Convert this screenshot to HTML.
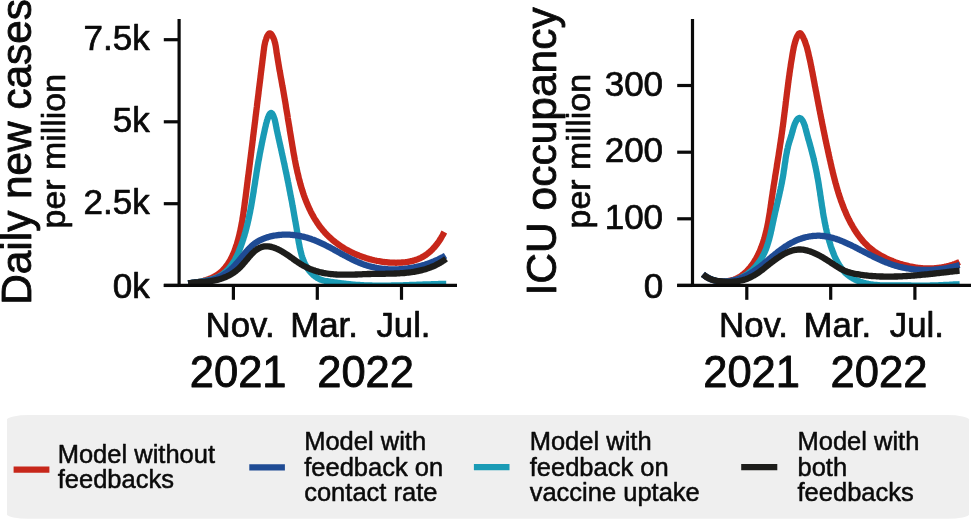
<!DOCTYPE html>
<html lang="en">
<head>
<meta charset="utf-8">
<title>Model feedback scenarios</title>
<style>
html,body{margin:0;padding:0;background:#fff;}
body{width:971px;height:519px;overflow:hidden;}
svg{display:block;font-family:"Liberation Sans",sans-serif;}
text{fill:#0a0a0a;stroke:#0a0a0a;stroke-width:0.02em;stroke-linejoin:round;}
</style>
</head>
<body>
<svg width="971" height="519" viewBox="0 0 971 519">
<rect width="971" height="519" fill="#ffffff"/>
<rect x="7" y="415.1" width="962" height="103.7" rx="22" ry="4.5" fill="#efefef"/>
<clipPath id="plotclip"><rect x="0" y="0" width="971" height="286.9"/></clipPath>
<g fill="none" stroke-width="6.3" stroke-linejoin="round" clip-path="url(#plotclip)">
<path d="M188.2,283.4 L189.4,283.3 L190.5,283.1 L191.7,283.0 L192.9,282.8 L194.1,282.6 L195.3,282.5 L196.5,282.3 L197.7,282.0 L198.9,281.8 L200.1,281.5 L201.3,281.3 L202.5,281.0 L203.7,280.7 L204.9,280.3 L206.1,280.0 L207.2,279.6 L208.4,279.2 L209.5,278.8 L210.6,278.3 L211.8,277.8 L212.8,277.3 L213.9,276.8 L214.9,276.2 L216.0,275.6 L217.0,275.0 L217.9,274.4 L218.9,273.7 L219.8,273.0 L220.7,272.2 L221.6,271.5 L222.4,270.7 L223.2,269.8 L224.0,269.0 L224.8,268.1 L225.5,267.2 L226.2,266.3 L226.9,265.3 L227.6,264.4 L228.3,263.4 L228.9,262.4 L229.5,261.3 L230.1,260.3 L230.7,259.2 L231.3,258.2 L231.8,257.1 L232.3,256.0 L232.8,254.9 L233.3,253.7 L233.8,252.6 L234.3,251.5 L234.7,250.3 L235.1,249.2 L235.5,248.0 L235.9,246.8 L236.3,245.6 L236.7,244.5 L237.1,243.3 L237.4,242.1 L237.7,240.9 L238.1,239.7 L238.4,238.5 L238.7,237.4 L239.0,236.2 L239.3,235.0 L239.6,233.8 L239.8,232.6 L240.1,231.5 L240.4,230.3 L240.6,229.1 L240.8,228.0 L241.1,226.8 L241.3,225.6 L241.5,224.4 L241.7,223.3 L242.0,222.1 L242.2,220.9 L242.4,219.8 L242.5,218.6 L242.7,217.4 L242.9,216.2 L243.1,215.1 L243.3,213.9 L243.4,212.7 L243.6,211.5 L243.8,210.4 L243.9,209.2 L244.1,208.0 L244.3,206.9 L244.4,205.7 L244.6,204.5 L244.7,203.3 L244.9,202.1 L245.0,201.0 L245.2,199.8 L245.4,198.6 L245.5,197.4 L245.7,196.2 L245.8,195.0 L246.0,193.9 L246.1,192.7 L246.3,191.5 L246.4,190.3 L246.6,189.1 L246.7,187.9 L246.9,186.7 L247.0,185.5 L247.2,184.3 L247.3,183.1 L247.5,181.9 L247.6,180.7 L247.8,179.5 L247.9,178.3 L248.1,177.1 L248.2,175.9 L248.4,174.7 L248.6,173.5 L248.7,172.3 L248.9,171.1 L249.0,169.9 L249.2,168.7 L249.3,167.5 L249.5,166.3 L249.6,165.1 L249.8,163.9 L249.9,162.7 L250.1,161.5 L250.2,160.3 L250.4,159.1 L250.5,157.9 L250.7,156.7 L250.8,155.5 L251.0,154.3 L251.1,153.1 L251.3,151.9 L251.4,150.7 L251.6,149.5 L251.7,148.3 L251.9,147.1 L252.0,145.9 L252.2,144.7 L252.3,143.5 L252.5,142.3 L252.6,141.1 L252.8,139.9 L252.9,138.7 L253.0,137.5 L253.2,136.3 L253.3,135.1 L253.5,133.9 L253.6,132.7 L253.8,131.5 L253.9,130.3 L254.1,129.1 L254.2,127.9 L254.4,126.7 L254.5,125.5 L254.7,124.3 L254.8,123.1 L255.0,122.0 L255.1,120.8 L255.3,119.6 L255.4,118.4 L255.5,117.2 L255.7,116.0 L255.8,114.8 L256.0,113.7 L256.1,112.5 L256.3,111.3 L256.4,110.1 L256.6,108.9 L256.7,107.7 L256.9,106.6 L257.0,105.4 L257.1,104.2 L257.3,103.0 L257.4,101.8 L257.6,100.6 L257.7,99.5 L257.9,98.3 L258.0,97.1 L258.2,95.9 L258.3,94.7 L258.5,93.5 L258.6,92.3 L258.7,91.2 L258.9,90.0 L259.0,88.8 L259.2,87.6 L259.3,86.4 L259.5,85.2 L259.6,84.0 L259.8,82.8 L259.9,81.7 L260.1,80.5 L260.2,79.3 L260.4,78.1 L260.5,76.9 L260.6,75.7 L260.8,74.5 L260.9,73.3 L261.1,72.1 L261.2,70.9 L261.4,69.7 L261.5,68.5 L261.7,67.3 L261.8,66.1 L262.0,64.9 L262.1,63.7 L262.3,62.5 L262.4,61.2 L262.6,60.0 L262.7,58.8 L262.9,57.6 L263.0,56.4 L263.2,55.2 L263.3,53.9 L263.5,52.7 L263.6,51.5 L263.8,50.3 L264.0,49.0 L264.1,47.8 L264.3,46.6 L264.5,45.3 L264.8,44.1 L265.0,42.9 L265.3,41.6 L265.7,40.4 L266.1,39.2 L266.5,37.9 L267.0,36.7 L267.6,35.5 L268.2,34.5 L268.9,33.7 L269.6,33.3 L270.3,33.3 L271.0,33.9 L271.7,34.7 L272.3,35.8 L272.9,37.0 L273.5,38.2 L274.0,39.4 L274.4,40.6 L274.7,41.9 L275.1,43.1 L275.3,44.3 L275.6,45.5 L275.8,46.8 L276.0,48.0 L276.2,49.2 L276.4,50.4 L276.5,51.7 L276.7,52.9 L276.9,54.1 L277.1,55.3 L277.3,56.6 L277.5,57.8 L277.7,59.0 L277.9,60.2 L278.1,61.4 L278.3,62.6 L278.5,63.9 L278.7,65.1 L278.9,66.3 L279.1,67.5 L279.3,68.7 L279.5,69.9 L279.7,71.1 L280.0,72.3 L280.2,73.5 L280.4,74.7 L280.6,75.9 L280.8,77.1 L281.0,78.3 L281.3,79.5 L281.5,80.7 L281.7,81.9 L281.9,83.1 L282.1,84.3 L282.3,85.5 L282.5,86.6 L282.8,87.8 L283.0,89.0 L283.2,90.2 L283.4,91.3 L283.6,92.5 L283.8,93.7 L284.0,94.8 L284.2,96.0 L284.4,97.2 L284.6,98.3 L284.8,99.5 L285.0,100.7 L285.2,101.8 L285.4,103.0 L285.6,104.2 L285.8,105.3 L285.9,106.5 L286.1,107.6 L286.3,108.8 L286.5,110.0 L286.7,111.1 L286.9,112.3 L287.1,113.4 L287.3,114.6 L287.5,115.7 L287.7,116.9 L287.8,118.1 L288.0,119.2 L288.2,120.4 L288.4,121.6 L288.6,122.7 L288.8,123.9 L289.0,125.1 L289.2,126.2 L289.4,127.4 L289.6,128.6 L289.7,129.7 L289.9,130.9 L290.1,132.1 L290.3,133.3 L290.5,134.4 L290.7,135.6 L290.9,136.8 L291.1,138.0 L291.3,139.2 L291.5,140.4 L291.7,141.6 L291.9,142.8 L292.1,144.0 L292.3,145.2 L292.5,146.4 L292.7,147.6 L292.9,148.8 L293.1,150.0 L293.3,151.2 L293.5,152.4 L293.7,153.6 L293.9,154.8 L294.2,156.0 L294.4,157.2 L294.6,158.4 L294.8,159.6 L295.1,160.9 L295.3,162.1 L295.5,163.3 L295.8,164.5 L296.0,165.7 L296.3,166.9 L296.5,168.1 L296.8,169.3 L297.1,170.5 L297.3,171.7 L297.6,172.9 L297.9,174.1 L298.2,175.3 L298.5,176.5 L298.7,177.7 L299.0,178.9 L299.4,180.1 L299.7,181.3 L300.0,182.5 L300.3,183.7 L300.6,184.8 L301.0,186.0 L301.3,187.2 L301.7,188.4 L302.0,189.5 L302.4,190.7 L302.8,191.8 L303.1,193.0 L303.5,194.1 L303.9,195.3 L304.3,196.4 L304.7,197.5 L305.1,198.7 L305.6,199.8 L306.0,200.9 L306.4,202.0 L306.9,203.1 L307.4,204.2 L307.8,205.3 L308.3,206.4 L308.8,207.5 L309.3,208.6 L309.8,209.7 L310.3,210.7 L310.8,211.8 L311.4,212.8 L311.9,213.9 L312.5,214.9 L313.0,215.9 L313.6,216.9 L314.2,218.0 L314.8,219.0 L315.4,220.0 L316.1,220.9 L316.7,221.9 L317.3,222.9 L318.0,223.9 L318.7,224.8 L319.3,225.8 L320.0,226.7 L320.7,227.6 L321.5,228.5 L322.2,229.4 L322.9,230.3 L323.7,231.2 L324.5,232.1 L325.2,233.0 L326.0,233.8 L326.9,234.7 L327.7,235.5 L328.5,236.3 L329.4,237.1 L330.2,237.9 L331.1,238.7 L332.0,239.5 L332.9,240.3 L333.8,241.0 L334.8,241.8 L335.7,242.5 L336.7,243.2 L337.6,243.9 L338.6,244.6 L339.6,245.3 L340.6,246.0 L341.6,246.7 L342.6,247.3 L343.6,247.9 L344.7,248.6 L345.7,249.2 L346.8,249.8 L347.9,250.4 L348.9,250.9 L350.0,251.5 L351.1,252.1 L352.2,252.6 L353.3,253.1 L354.4,253.6 L355.6,254.1 L356.7,254.6 L357.8,255.1 L359.0,255.5 L360.1,256.0 L361.3,256.4 L362.4,256.8 L363.6,257.2 L364.8,257.6 L365.9,258.0 L367.1,258.4 L368.3,258.7 L369.5,259.1 L370.7,259.4 L371.9,259.7 L373.1,260.0 L374.3,260.3 L375.5,260.5 L376.7,260.8 L377.9,261.0 L379.1,261.2 L380.3,261.4 L381.5,261.6 L382.7,261.8 L383.9,262.0 L385.2,262.1 L386.4,262.2 L387.6,262.4 L388.8,262.5 L390.0,262.6 L391.2,262.6 L392.4,262.7 L393.6,262.7 L394.8,262.7 L396.0,262.8 L397.2,262.7 L398.4,262.7 L399.6,262.7 L400.8,262.6 L402.0,262.5 L403.2,262.4 L404.4,262.3 L405.5,262.2 L406.7,262.0 L407.9,261.8 L409.0,261.6 L410.2,261.4 L411.3,261.1 L412.4,260.9 L413.6,260.6 L414.7,260.2 L415.8,259.9 L416.9,259.5 L417.9,259.1 L419.0,258.6 L420.1,258.2 L421.1,257.7 L422.2,257.1 L423.2,256.6 L424.2,256.0 L425.2,255.3 L426.2,254.7 L427.2,254.0 L428.1,253.2 L429.1,252.5 L430.0,251.7 L430.9,250.8 L431.8,250.0 L432.7,249.1 L433.5,248.1 L434.4,247.2 L435.2,246.2 L436.0,245.2 L436.8,244.2 L437.6,243.2 L438.3,242.2 L439.0,241.2 L439.7,240.1 L440.4,239.1 L441.0,238.1 L441.6,237.0 L442.2,236.0 L442.8,235.0 L443.3,234.0 L443.8,233.0 L444.3,232.0" stroke="#c7271a"/>
<path d="M188.2,283.4 L189.3,283.2 L190.5,283.1 L191.7,282.9 L192.9,282.7 L194.1,282.6 L195.3,282.4 L196.5,282.3 L197.7,282.1 L199.0,281.9 L200.2,281.7 L201.4,281.5 L202.7,281.3 L203.9,281.1 L205.2,280.9 L206.4,280.6 L207.6,280.4 L208.9,280.1 L210.1,279.8 L211.3,279.5 L212.4,279.1 L213.6,278.7 L214.7,278.3 L215.9,277.9 L217.0,277.5 L218.0,277.0 L219.1,276.4 L220.1,275.9 L221.1,275.3 L222.1,274.7 L223.0,274.0 L223.9,273.3 L224.8,272.6 L225.7,271.8 L226.5,271.0 L227.3,270.2 L228.1,269.4 L228.9,268.5 L229.6,267.6 L230.4,266.7 L231.1,265.8 L231.7,264.8 L232.4,263.9 L233.0,262.9 L233.7,261.9 L234.3,260.8 L234.9,259.8 L235.4,258.7 L236.0,257.7 L236.5,256.6 L237.1,255.5 L237.6,254.4 L238.1,253.2 L238.6,252.1 L239.0,251.0 L239.5,249.8 L239.9,248.7 L240.4,247.5 L240.8,246.4 L241.2,245.2 L241.6,244.1 L242.0,242.9 L242.4,241.8 L242.8,240.6 L243.2,239.4 L243.5,238.3 L243.9,237.1 L244.3,235.9 L244.6,234.8 L244.9,233.6 L245.3,232.4 L245.6,231.3 L245.9,230.1 L246.2,228.9 L246.5,227.8 L246.8,226.6 L247.1,225.4 L247.4,224.3 L247.7,223.1 L247.9,221.9 L248.2,220.7 L248.5,219.6 L248.7,218.4 L249.0,217.2 L249.2,216.0 L249.5,214.8 L249.7,213.7 L250.0,212.5 L250.2,211.3 L250.4,210.1 L250.6,208.9 L250.9,207.8 L251.1,206.6 L251.3,205.4 L251.5,204.2 L251.7,203.0 L251.9,201.9 L252.1,200.7 L252.3,199.5 L252.5,198.3 L252.7,197.1 L252.9,195.9 L253.1,194.8 L253.3,193.6 L253.5,192.4 L253.7,191.2 L253.8,190.0 L254.0,188.8 L254.2,187.6 L254.4,186.5 L254.6,185.3 L254.8,184.1 L255.0,182.9 L255.1,181.7 L255.3,180.5 L255.5,179.3 L255.7,178.2 L255.9,177.0 L256.1,175.8 L256.3,174.6 L256.4,173.4 L256.6,172.2 L256.8,171.1 L257.0,169.9 L257.2,168.7 L257.4,167.5 L257.6,166.3 L257.8,165.1 L258.0,164.0 L258.2,162.8 L258.4,161.6 L258.6,160.4 L258.9,159.2 L259.1,158.0 L259.3,156.9 L259.5,155.7 L259.7,154.5 L259.9,153.3 L260.2,152.1 L260.4,150.9 L260.6,149.8 L260.9,148.6 L261.1,147.4 L261.3,146.2 L261.6,145.0 L261.8,143.8 L262.0,142.6 L262.3,141.5 L262.5,140.3 L262.8,139.1 L263.0,137.9 L263.3,136.7 L263.5,135.5 L263.8,134.3 L264.1,133.1 L264.3,131.9 L264.6,130.7 L264.8,129.5 L265.1,128.3 L265.4,127.1 L265.7,125.9 L265.9,124.7 L266.2,123.5 L266.6,122.3 L266.9,121.0 L267.3,119.8 L267.7,118.5 L268.2,117.3 L268.7,116.0 L269.2,114.8 L269.8,113.8 L270.5,113.2 L271.1,112.9 L271.7,113.2 L272.3,113.8 L272.9,114.8 L273.4,116.0 L273.9,117.3 L274.4,118.6 L274.8,119.9 L275.1,121.3 L275.4,122.6 L275.7,124.0 L275.9,125.3 L276.2,126.6 L276.4,127.9 L276.7,129.2 L276.9,130.4 L277.2,131.6 L277.4,132.7 L277.7,133.9 L277.9,135.0 L278.2,136.2 L278.4,137.3 L278.7,138.4 L278.9,139.6 L279.2,140.7 L279.4,141.8 L279.7,142.9 L279.9,144.1 L280.2,145.2 L280.4,146.4 L280.7,147.5 L281.0,148.7 L281.2,149.9 L281.5,151.0 L281.7,152.2 L282.0,153.4 L282.2,154.6 L282.5,155.8 L282.8,157.0 L283.0,158.1 L283.3,159.3 L283.5,160.5 L283.8,161.7 L284.1,162.9 L284.3,164.1 L284.6,165.3 L284.8,166.5 L285.1,167.7 L285.3,168.9 L285.6,170.1 L285.8,171.3 L286.1,172.5 L286.3,173.6 L286.6,174.8 L286.8,176.0 L287.1,177.2 L287.3,178.4 L287.5,179.6 L287.8,180.8 L288.0,181.9 L288.3,183.1 L288.5,184.3 L288.7,185.5 L289.0,186.7 L289.2,187.8 L289.4,189.0 L289.6,190.2 L289.9,191.4 L290.1,192.5 L290.3,193.7 L290.5,194.9 L290.8,196.1 L291.0,197.2 L291.2,198.4 L291.4,199.6 L291.7,200.8 L291.9,201.9 L292.1,203.1 L292.3,204.3 L292.5,205.5 L292.7,206.6 L293.0,207.8 L293.2,209.0 L293.4,210.2 L293.6,211.4 L293.8,212.5 L294.0,213.7 L294.2,214.9 L294.4,216.1 L294.6,217.3 L294.8,218.4 L295.0,219.6 L295.2,220.8 L295.5,222.0 L295.7,223.2 L295.9,224.4 L296.1,225.6 L296.3,226.8 L296.5,227.9 L296.7,229.1 L296.9,230.3 L297.1,231.5 L297.3,232.7 L297.5,233.9 L297.6,235.1 L297.8,236.3 L298.0,237.5 L298.2,238.7 L298.4,240.0 L298.6,241.2 L298.8,242.4 L299.0,243.6 L299.3,244.8 L299.5,246.0 L299.7,247.2 L300.0,248.4 L300.2,249.6 L300.5,250.8 L300.8,251.9 L301.1,253.1 L301.4,254.3 L301.7,255.4 L302.1,256.6 L302.4,257.7 L302.8,258.8 L303.3,260.0 L303.7,261.1 L304.2,262.2 L304.7,263.3 L305.2,264.3 L305.8,265.4 L306.4,266.4 L307.0,267.4 L307.6,268.5 L308.3,269.4 L309.0,270.4 L309.8,271.3 L310.6,272.3 L311.4,273.1 L312.2,274.0 L313.1,274.8 L314.0,275.6 L314.9,276.3 L315.9,277.0 L316.9,277.7 L317.9,278.3 L318.9,278.8 L320.0,279.3 L321.1,279.8 L322.3,280.1 L323.4,280.5 L324.6,280.8 L325.8,281.0 L327.1,281.2 L328.3,281.4 L329.5,281.6 L330.7,281.8 L332.0,282.0 L333.2,282.1 L334.4,282.3 L335.6,282.5 L336.8,282.6 L338.0,282.8 L339.2,283.0 L340.4,283.1 L341.6,283.3 L342.8,283.4 L344.0,283.6 L345.2,283.7 L346.4,283.8 L347.6,284.0 L348.8,284.1 L349.9,284.2 L351.1,284.3 L352.3,284.5 L353.5,284.6 L354.7,284.7 L355.9,284.8 L357.1,284.8 L358.3,284.9 L359.5,285.0 L360.7,285.1 L361.9,285.2 L363.1,285.2 L364.3,285.3 L365.5,285.3 L366.7,285.4 L367.9,285.4 L369.1,285.5 L370.3,285.5 L371.5,285.5 L372.7,285.6 L373.9,285.6 L375.1,285.6 L376.3,285.6 L377.5,285.6 L378.7,285.6 L379.9,285.7 L381.1,285.7 L382.3,285.7 L383.5,285.7 L384.7,285.6 L385.9,285.6 L387.1,285.6 L388.3,285.6 L389.5,285.6 L390.7,285.6 L391.9,285.5 L393.2,285.5 L394.4,285.5 L395.6,285.5 L396.8,285.4 L398.0,285.4 L399.2,285.4 L400.4,285.3 L401.6,285.3 L402.8,285.3 L404.0,285.2 L405.2,285.2 L406.5,285.1 L407.7,285.1 L408.9,285.1 L410.1,285.0 L411.3,285.0 L412.5,284.9 L413.7,284.9 L414.9,284.8 L416.1,284.8 L417.3,284.7 L418.5,284.7 L419.7,284.6 L421.0,284.6 L422.2,284.6 L423.4,284.5 L424.6,284.5 L425.8,284.4 L427.0,284.4 L428.2,284.3 L429.4,284.3 L430.6,284.3 L431.8,284.2 L433.0,284.2 L434.2,284.1 L435.4,284.1 L436.6,284.1 L437.8,284.1 L439.0,284.0 L440.2,284.0 L441.4,284.0 L442.6,284.0 L443.8,283.9 L445.0,283.9 L446.2,283.9" stroke="#1a9bb5"/>
<path d="M188.2,283.4 L189.4,283.2 L190.6,283.1 L191.8,282.9 L193.0,282.8 L194.2,282.7 L195.4,282.5 L196.6,282.4 L197.9,282.3 L199.1,282.2 L200.3,282.0 L201.5,281.9 L202.7,281.7 L203.9,281.5 L205.1,281.3 L206.3,281.1 L207.5,280.9 L208.7,280.6 L209.8,280.3 L211.0,280.0 L212.1,279.7 L213.3,279.4 L214.4,279.0 L215.5,278.6 L216.6,278.2 L217.6,277.7 L218.7,277.2 L219.8,276.7 L220.8,276.2 L221.8,275.7 L222.8,275.1 L223.8,274.5 L224.8,273.9 L225.8,273.2 L226.8,272.6 L227.7,271.9 L228.6,271.2 L229.6,270.4 L230.5,269.7 L231.3,268.9 L232.2,268.1 L233.1,267.3 L233.9,266.4 L234.7,265.5 L235.5,264.6 L236.3,263.7 L237.1,262.8 L237.9,261.9 L238.7,260.9 L239.5,260.0 L240.3,259.0 L241.0,258.0 L241.8,257.1 L242.6,256.1 L243.4,255.2 L244.1,254.2 L244.9,253.2 L245.7,252.3 L246.5,251.4 L247.3,250.5 L248.1,249.6 L249.0,248.7 L249.8,247.8 L250.7,247.0 L251.5,246.1 L252.4,245.3 L253.4,244.6 L254.3,243.8 L255.2,243.1 L256.2,242.5 L257.2,241.8 L258.2,241.2 L259.3,240.6 L260.3,240.1 L261.4,239.6 L262.5,239.1 L263.6,238.6 L264.7,238.2 L265.9,237.8 L267.0,237.4 L268.2,237.1 L269.3,236.7 L270.5,236.4 L271.7,236.2 L272.8,235.9 L274.0,235.7 L275.2,235.5 L276.4,235.3 L277.6,235.1 L278.8,235.0 L280.0,234.9 L281.2,234.8 L282.4,234.7 L283.6,234.7 L284.8,234.6 L286.0,234.6 L287.3,234.6 L288.5,234.7 L289.7,234.7 L290.9,234.8 L292.1,234.9 L293.3,235.0 L294.5,235.2 L295.7,235.3 L296.9,235.5 L298.2,235.7 L299.4,235.9 L300.5,236.1 L301.7,236.4 L302.9,236.6 L304.1,236.9 L305.3,237.2 L306.5,237.5 L307.6,237.9 L308.8,238.2 L309.9,238.6 L311.1,239.0 L312.2,239.4 L313.4,239.8 L314.5,240.2 L315.6,240.7 L316.7,241.1 L317.8,241.6 L318.9,242.1 L320.0,242.6 L321.1,243.1 L322.2,243.6 L323.3,244.1 L324.4,244.6 L325.5,245.2 L326.5,245.7 L327.6,246.3 L328.7,246.8 L329.7,247.4 L330.8,247.9 L331.8,248.5 L332.9,249.1 L334.0,249.7 L335.0,250.3 L336.1,250.8 L337.1,251.4 L338.2,252.0 L339.2,252.6 L340.3,253.2 L341.3,253.8 L342.4,254.3 L343.4,254.9 L344.5,255.5 L345.5,256.0 L346.6,256.6 L347.7,257.2 L348.7,257.7 L349.8,258.3 L350.8,258.8 L351.9,259.3 L353.0,259.9 L354.1,260.4 L355.1,260.9 L356.2,261.4 L357.3,261.9 L358.4,262.3 L359.5,262.8 L360.6,263.2 L361.7,263.7 L362.8,264.1 L363.9,264.5 L365.1,264.9 L366.2,265.3 L367.3,265.6 L368.5,266.0 L369.6,266.3 L370.8,266.6 L371.9,266.9 L373.1,267.1 L374.3,267.4 L375.4,267.6 L376.6,267.9 L377.8,268.1 L379.0,268.3 L380.2,268.5 L381.4,268.6 L382.6,268.8 L383.8,268.9 L385.0,269.0 L386.2,269.1 L387.4,269.2 L388.6,269.3 L389.8,269.3 L391.0,269.4 L392.2,269.4 L393.5,269.4 L394.7,269.4 L395.9,269.4 L397.1,269.3 L398.3,269.3 L399.6,269.2 L400.8,269.2 L402.0,269.1 L403.2,269.0 L404.4,268.8 L405.6,268.7 L406.9,268.6 L408.1,268.4 L409.3,268.2 L410.5,268.0 L411.7,267.8 L412.9,267.6 L414.1,267.4 L415.3,267.1 L416.5,266.9 L417.7,266.6 L418.9,266.3 L420.0,266.0 L421.2,265.7 L422.4,265.4 L423.6,265.0 L424.7,264.7 L425.9,264.3 L427.0,263.9 L428.2,263.5 L429.3,263.1 L430.4,262.7 L431.6,262.3 L432.7,261.8 L433.8,261.4 L434.9,260.9 L436.0,260.4 L437.1,260.0 L438.2,259.5 L439.2,258.9 L440.3,258.4 L441.4,257.9 L442.4,257.3 L443.5,256.8 L444.5,256.2 L445.5,255.6" stroke="#1f4b94"/>
<path d="M188.2,283.4 L189.4,283.2 L190.6,283.0 L191.8,282.8 L193.0,282.7 L194.2,282.6 L195.4,282.4 L196.6,282.4 L197.8,282.3 L199.0,282.2 L200.2,282.1 L201.5,282.1 L202.7,282.0 L203.9,281.9 L205.1,281.8 L206.3,281.7 L207.5,281.6 L208.7,281.4 L209.9,281.3 L211.1,281.1 L212.3,280.9 L213.5,280.7 L214.7,280.4 L215.8,280.2 L217.0,279.9 L218.2,279.6 L219.3,279.3 L220.4,278.9 L221.6,278.5 L222.7,278.2 L223.8,277.7 L224.9,277.3 L226.0,276.8 L227.1,276.3 L228.1,275.8 L229.2,275.3 L230.3,274.7 L231.3,274.1 L232.3,273.5 L233.3,272.8 L234.3,272.1 L235.3,271.4 L236.2,270.7 L237.2,269.9 L238.1,269.1 L239.0,268.3 L239.9,267.4 L240.8,266.5 L241.7,265.6 L242.5,264.7 L243.3,263.7 L244.2,262.7 L245.0,261.8 L245.8,260.8 L246.6,259.8 L247.5,258.8 L248.3,257.8 L249.1,256.9 L249.9,255.9 L250.8,255.0 L251.6,254.1 L252.5,253.2 L253.4,252.3 L254.3,251.5 L255.2,250.7 L256.2,250.0 L257.1,249.3 L258.1,248.7 L259.1,248.1 L260.1,247.6 L261.2,247.2 L262.2,246.8 L263.3,246.6 L264.4,246.4 L265.5,246.3 L266.6,246.3 L267.8,246.3 L268.9,246.5 L270.1,246.6 L271.2,246.9 L272.4,247.2 L273.5,247.5 L274.7,247.9 L275.8,248.4 L277.0,248.9 L278.1,249.4 L279.3,250.0 L280.4,250.6 L281.5,251.2 L282.6,251.8 L283.7,252.5 L284.7,253.1 L285.8,253.8 L286.8,254.5 L287.9,255.2 L288.9,255.9 L289.9,256.6 L290.9,257.3 L291.9,258.0 L292.9,258.7 L293.8,259.4 L294.8,260.1 L295.8,260.8 L296.8,261.5 L297.8,262.2 L298.8,262.9 L299.8,263.5 L300.8,264.2 L301.9,264.8 L302.9,265.4 L304.0,266.0 L305.0,266.5 L306.1,267.1 L307.2,267.6 L308.3,268.1 L309.4,268.6 L310.6,269.1 L311.7,269.5 L312.8,269.9 L314.0,270.3 L315.1,270.7 L316.3,271.1 L317.5,271.4 L318.6,271.8 L319.8,272.1 L321.0,272.3 L322.1,272.6 L323.3,272.9 L324.5,273.1 L325.7,273.3 L326.9,273.5 L328.0,273.7 L329.2,273.8 L330.4,274.0 L331.6,274.1 L332.8,274.2 L334.0,274.3 L335.2,274.4 L336.3,274.5 L337.5,274.6 L338.7,274.6 L339.9,274.7 L341.1,274.7 L342.3,274.7 L343.5,274.7 L344.7,274.7 L345.9,274.7 L347.1,274.7 L348.3,274.7 L349.5,274.7 L350.7,274.7 L352.0,274.6 L353.2,274.6 L354.4,274.6 L355.6,274.5 L356.8,274.5 L358.0,274.4 L359.2,274.4 L360.4,274.3 L361.7,274.3 L362.9,274.2 L364.1,274.2 L365.3,274.1 L366.5,274.1 L367.8,274.0 L369.0,274.0 L370.2,274.0 L371.4,273.9 L372.6,273.9 L373.9,273.9 L375.1,273.9 L376.3,273.9 L377.6,273.8 L378.8,273.8 L380.0,273.8 L381.2,273.8 L382.5,273.8 L383.7,273.8 L384.9,273.8 L386.1,273.7 L387.4,273.7 L388.6,273.7 L389.8,273.7 L391.0,273.6 L392.2,273.6 L393.5,273.6 L394.7,273.5 L395.9,273.5 L397.1,273.4 L398.3,273.4 L399.5,273.3 L400.7,273.2 L401.9,273.2 L403.1,273.1 L404.3,273.0 L405.5,272.9 L406.7,272.7 L407.9,272.6 L409.1,272.5 L410.3,272.3 L411.5,272.2 L412.7,272.0 L413.9,271.8 L415.0,271.6 L416.2,271.4 L417.4,271.2 L418.5,270.9 L419.7,270.7 L420.8,270.4 L422.0,270.1 L423.1,269.8 L424.3,269.5 L425.4,269.2 L426.6,268.8 L427.7,268.4 L428.8,268.0 L429.9,267.6 L431.0,267.2 L432.1,266.7 L433.2,266.3 L434.3,265.8 L435.4,265.3 L436.5,264.7 L437.6,264.2 L438.7,263.6 L439.7,263.0 L440.8,262.3 L441.9,261.7 L442.9,261.0 L443.9,260.3 L445.0,259.6 L446.0,258.8" stroke="#1d1d1b"/>
<path d="M703.0,274.3 L703.9,275.1 L704.8,275.8 L705.8,276.6 L706.8,277.2 L707.8,277.8 L708.9,278.4 L710.0,278.9 L711.1,279.4 L712.2,279.8 L713.4,280.1 L714.6,280.5 L715.7,280.8 L717.0,281.0 L718.2,281.2 L719.4,281.3 L720.6,281.4 L721.8,281.5 L723.1,281.5 L724.3,281.5 L725.5,281.4 L726.7,281.3 L727.9,281.1 L729.1,280.9 L730.3,280.7 L731.5,280.4 L732.6,280.0 L733.7,279.7 L734.8,279.3 L735.9,278.8 L736.9,278.3 L738.0,277.8 L739.0,277.2 L740.0,276.6 L740.9,276.0 L741.9,275.3 L742.8,274.6 L743.7,273.9 L744.6,273.1 L745.5,272.3 L746.4,271.5 L747.2,270.7 L748.0,269.8 L748.8,268.9 L749.6,268.0 L750.4,267.1 L751.1,266.1 L751.8,265.2 L752.5,264.2 L753.2,263.2 L753.9,262.1 L754.5,261.1 L755.2,260.0 L755.8,259.0 L756.4,257.9 L757.0,256.8 L757.6,255.7 L758.1,254.6 L758.7,253.5 L759.2,252.4 L759.7,251.2 L760.2,250.1 L760.6,249.0 L761.1,247.8 L761.5,246.7 L762.0,245.5 L762.4,244.4 L762.8,243.2 L763.2,242.1 L763.5,240.9 L763.9,239.8 L764.3,238.6 L764.6,237.5 L764.9,236.3 L765.2,235.2 L765.5,234.0 L765.8,232.8 L766.1,231.7 L766.4,230.5 L766.7,229.4 L766.9,228.2 L767.2,227.0 L767.4,225.8 L767.6,224.7 L767.9,223.5 L768.1,222.3 L768.3,221.2 L768.5,220.0 L768.7,218.8 L768.9,217.6 L769.1,216.4 L769.3,215.3 L769.5,214.1 L769.7,212.9 L769.9,211.7 L770.0,210.5 L770.2,209.4 L770.4,208.2 L770.6,207.0 L770.7,205.8 L770.9,204.6 L771.1,203.4 L771.2,202.2 L771.4,201.0 L771.6,199.9 L771.7,198.7 L771.9,197.5 L772.1,196.3 L772.3,195.1 L772.5,193.9 L772.6,192.7 L772.8,191.5 L773.0,190.3 L773.2,189.2 L773.4,188.0 L773.5,186.8 L773.7,185.6 L773.9,184.4 L774.1,183.2 L774.3,182.0 L774.5,180.8 L774.7,179.6 L774.9,178.4 L775.0,177.2 L775.2,176.0 L775.4,174.9 L775.6,173.7 L775.8,172.5 L776.0,171.3 L776.2,170.1 L776.4,168.9 L776.6,167.7 L776.8,166.5 L776.9,165.3 L777.1,164.1 L777.3,162.9 L777.5,161.7 L777.7,160.5 L777.9,159.3 L778.1,158.1 L778.3,156.9 L778.5,155.8 L778.7,154.6 L778.8,153.4 L779.0,152.2 L779.2,151.0 L779.4,149.8 L779.6,148.6 L779.8,147.4 L779.9,146.2 L780.1,145.0 L780.3,143.8 L780.5,142.6 L780.7,141.4 L780.8,140.2 L781.0,139.0 L781.2,137.9 L781.4,136.7 L781.5,135.5 L781.7,134.3 L781.9,133.1 L782.0,131.9 L782.2,130.7 L782.4,129.5 L782.5,128.3 L782.7,127.1 L782.9,125.9 L783.0,124.7 L783.2,123.6 L783.3,122.4 L783.5,121.2 L783.6,120.0 L783.8,118.8 L783.9,117.6 L784.1,116.4 L784.2,115.2 L784.4,114.0 L784.5,112.8 L784.7,111.7 L784.8,110.5 L785.0,109.3 L785.1,108.1 L785.3,106.9 L785.4,105.7 L785.6,104.5 L785.7,103.3 L785.8,102.1 L786.0,100.9 L786.1,99.8 L786.3,98.6 L786.4,97.4 L786.6,96.2 L786.7,95.0 L786.9,93.8 L787.0,92.6 L787.2,91.4 L787.3,90.2 L787.5,89.0 L787.6,87.9 L787.8,86.7 L787.9,85.5 L788.1,84.3 L788.2,83.1 L788.4,81.9 L788.5,80.7 L788.7,79.5 L788.9,78.3 L789.0,77.1 L789.2,75.9 L789.4,74.7 L789.5,73.5 L789.7,72.3 L789.9,71.1 L790.0,69.9 L790.2,68.7 L790.4,67.6 L790.6,66.4 L790.7,65.2 L790.9,64.0 L791.1,62.8 L791.3,61.6 L791.5,60.4 L791.7,59.2 L791.9,58.0 L792.1,56.8 L792.3,55.6 L792.5,54.3 L792.7,53.1 L792.9,51.9 L793.1,50.7 L793.4,49.5 L793.6,48.3 L793.8,47.1 L794.1,45.9 L794.4,44.7 L794.7,43.5 L795.1,42.2 L795.4,41.0 L795.9,39.7 L796.3,38.5 L796.8,37.2 L797.4,36.0 L798.0,34.9 L798.6,34.0 L799.3,33.4 L799.9,33.2 L800.6,33.5 L801.3,34.2 L802.0,35.2 L802.6,36.3 L803.2,37.5 L803.8,38.8 L804.4,40.0 L804.8,41.2 L805.3,42.5 L805.7,43.7 L806.1,44.9 L806.5,46.1 L806.9,47.3 L807.2,48.5 L807.5,49.7 L807.8,50.9 L808.1,52.1 L808.4,53.3 L808.6,54.5 L808.9,55.7 L809.2,56.9 L809.4,58.1 L809.7,59.3 L810.0,60.4 L810.2,61.6 L810.5,62.8 L810.7,64.0 L811.0,65.2 L811.2,66.4 L811.4,67.5 L811.7,68.7 L811.9,69.9 L812.1,71.1 L812.4,72.3 L812.6,73.4 L812.8,74.6 L813.0,75.8 L813.3,77.0 L813.5,78.1 L813.7,79.3 L813.9,80.5 L814.2,81.7 L814.4,82.9 L814.6,84.0 L814.8,85.2 L815.0,86.4 L815.3,87.6 L815.5,88.7 L815.7,89.9 L815.9,91.1 L816.2,92.3 L816.4,93.4 L816.6,94.6 L816.8,95.8 L817.1,97.0 L817.3,98.2 L817.5,99.3 L817.7,100.5 L818.0,101.7 L818.2,102.9 L818.4,104.0 L818.6,105.2 L818.9,106.4 L819.1,107.6 L819.3,108.8 L819.5,109.9 L819.8,111.1 L820.0,112.3 L820.2,113.5 L820.5,114.6 L820.7,115.8 L820.9,117.0 L821.2,118.2 L821.4,119.4 L821.6,120.5 L821.9,121.7 L822.1,122.9 L822.3,124.1 L822.6,125.2 L822.8,126.4 L823.1,127.6 L823.3,128.8 L823.5,130.0 L823.8,131.1 L824.0,132.3 L824.3,133.5 L824.5,134.7 L824.8,135.9 L825.0,137.0 L825.2,138.2 L825.5,139.4 L825.7,140.6 L826.0,141.7 L826.2,142.9 L826.5,144.1 L826.7,145.3 L827.0,146.5 L827.2,147.6 L827.5,148.8 L827.8,150.0 L828.0,151.2 L828.3,152.4 L828.5,153.5 L828.8,154.7 L829.0,155.9 L829.3,157.1 L829.6,158.3 L829.8,159.4 L830.1,160.6 L830.4,161.8 L830.6,163.0 L830.9,164.1 L831.2,165.3 L831.4,166.5 L831.7,167.7 L832.0,168.9 L832.3,170.0 L832.6,171.2 L832.8,172.4 L833.1,173.6 L833.4,174.7 L833.7,175.9 L834.0,177.1 L834.3,178.3 L834.6,179.4 L834.9,180.6 L835.2,181.8 L835.5,182.9 L835.9,184.1 L836.2,185.3 L836.5,186.4 L836.8,187.6 L837.2,188.7 L837.5,189.9 L837.9,191.1 L838.2,192.2 L838.6,193.4 L838.9,194.5 L839.3,195.7 L839.7,196.8 L840.1,197.9 L840.5,199.1 L840.8,200.2 L841.2,201.3 L841.7,202.5 L842.1,203.6 L842.5,204.7 L842.9,205.8 L843.4,207.0 L843.8,208.1 L844.2,209.2 L844.7,210.3 L845.2,211.4 L845.7,212.5 L846.1,213.6 L846.6,214.7 L847.1,215.8 L847.6,216.9 L848.2,218.0 L848.7,219.1 L849.2,220.1 L849.8,221.2 L850.3,222.3 L850.9,223.3 L851.5,224.4 L852.1,225.4 L852.7,226.5 L853.3,227.5 L853.9,228.6 L854.5,229.6 L855.2,230.6 L855.8,231.6 L856.5,232.6 L857.2,233.6 L857.9,234.6 L858.6,235.6 L859.3,236.5 L860.0,237.5 L860.7,238.4 L861.5,239.3 L862.3,240.3 L863.0,241.2 L863.8,242.0 L864.6,242.9 L865.5,243.8 L866.3,244.6 L867.2,245.5 L868.0,246.3 L868.9,247.1 L869.8,247.9 L870.7,248.7 L871.7,249.4 L872.6,250.1 L873.6,250.9 L874.5,251.6 L875.5,252.3 L876.5,252.9 L877.5,253.6 L878.6,254.2 L879.6,254.8 L880.7,255.5 L881.7,256.0 L882.8,256.6 L883.9,257.2 L885.0,257.7 L886.1,258.3 L887.2,258.8 L888.3,259.3 L889.4,259.8 L890.5,260.3 L891.7,260.7 L892.8,261.2 L893.9,261.6 L895.1,262.1 L896.2,262.5 L897.4,262.9 L898.5,263.3 L899.7,263.7 L900.9,264.0 L902.0,264.4 L903.2,264.7 L904.3,265.0 L905.5,265.3 L906.7,265.6 L907.9,265.9 L909.0,266.2 L910.2,266.5 L911.4,266.7 L912.6,266.9 L913.7,267.1 L914.9,267.3 L916.1,267.5 L917.3,267.7 L918.5,267.8 L919.6,268.0 L920.8,268.1 L922.0,268.2 L923.2,268.3 L924.4,268.4 L925.6,268.4 L926.8,268.5 L927.9,268.5 L929.1,268.5 L930.3,268.5 L931.5,268.4 L932.7,268.4 L933.9,268.3 L935.1,268.2 L936.2,268.1 L937.4,268.0 L938.6,267.9 L939.8,267.7 L941.0,267.5 L942.1,267.3 L943.3,267.1 L944.5,266.9 L945.7,266.6 L946.8,266.4 L948.0,266.1 L949.2,265.8 L950.4,265.4 L951.5,265.1 L952.7,264.7 L953.8,264.3 L955.0,263.9 L956.2,263.4 L957.3,263.0 L958.5,262.5 L959.6,262.0" stroke="#c7271a"/>
<path d="M703.0,274.3 L703.9,275.1 L704.9,275.8 L705.8,276.5 L706.8,277.1 L707.9,277.7 L708.9,278.3 L710.0,278.8 L711.1,279.3 L712.3,279.7 L713.4,280.1 L714.6,280.4 L715.7,280.7 L716.9,281.0 L718.1,281.2 L719.3,281.4 L720.5,281.5 L721.8,281.6 L723.0,281.7 L724.2,281.7 L725.4,281.6 L726.7,281.6 L727.9,281.5 L729.1,281.3 L730.3,281.2 L731.5,281.0 L732.7,280.7 L733.8,280.4 L735.0,280.1 L736.1,279.8 L737.3,279.4 L738.4,278.9 L739.5,278.5 L740.6,278.0 L741.6,277.5 L742.7,276.9 L743.7,276.4 L744.7,275.8 L745.7,275.1 L746.7,274.5 L747.7,273.8 L748.6,273.1 L749.6,272.3 L750.5,271.6 L751.4,270.8 L752.2,270.0 L753.1,269.2 L753.9,268.3 L754.8,267.4 L755.6,266.5 L756.3,265.6 L757.1,264.7 L757.8,263.8 L758.6,262.8 L759.3,261.8 L759.9,260.8 L760.6,259.8 L761.2,258.8 L761.8,257.8 L762.4,256.7 L763.0,255.7 L763.5,254.6 L764.1,253.5 L764.6,252.4 L765.1,251.3 L765.5,250.2 L766.0,249.1 L766.4,248.0 L766.8,246.8 L767.2,245.7 L767.6,244.5 L767.9,243.4 L768.3,242.2 L768.6,241.1 L769.0,239.9 L769.3,238.7 L769.6,237.5 L769.9,236.4 L770.2,235.2 L770.5,234.0 L770.8,232.8 L771.0,231.6 L771.3,230.4 L771.6,229.2 L771.8,228.0 L772.1,226.8 L772.3,225.6 L772.6,224.5 L772.8,223.3 L773.1,222.1 L773.3,220.9 L773.6,219.7 L773.8,218.5 L774.1,217.3 L774.4,216.2 L774.6,215.0 L774.9,213.8 L775.1,212.6 L775.4,211.5 L775.7,210.3 L776.0,209.2 L776.2,208.0 L776.5,206.8 L776.8,205.7 L777.0,204.5 L777.3,203.4 L777.6,202.2 L777.8,201.0 L778.1,199.9 L778.4,198.7 L778.6,197.6 L778.9,196.4 L779.2,195.2 L779.4,194.1 L779.7,192.9 L779.9,191.8 L780.2,190.6 L780.5,189.4 L780.7,188.3 L780.9,187.1 L781.2,185.9 L781.4,184.8 L781.7,183.6 L781.9,182.4 L782.1,181.2 L782.3,180.0 L782.6,178.8 L782.8,177.6 L783.0,176.4 L783.2,175.2 L783.4,174.0 L783.6,172.8 L783.7,171.6 L783.9,170.4 L784.1,169.2 L784.3,168.0 L784.5,166.8 L784.6,165.5 L784.8,164.3 L785.0,163.1 L785.2,161.9 L785.4,160.7 L785.5,159.5 L785.7,158.3 L785.9,157.1 L786.1,155.9 L786.3,154.7 L786.6,153.5 L786.8,152.4 L787.0,151.2 L787.2,150.1 L787.5,148.9 L787.8,147.8 L788.0,146.6 L788.3,145.5 L788.6,144.4 L788.9,143.3 L789.2,142.2 L789.6,141.1 L789.9,140.0 L790.3,138.9 L790.6,137.8 L791.0,136.7 L791.3,135.5 L791.7,134.3 L792.0,133.0 L792.4,131.8 L792.8,130.4 L793.1,129.1 L793.5,127.8 L793.9,126.4 L794.4,125.1 L794.8,123.8 L795.4,122.6 L796.0,121.4 L796.6,120.3 L797.3,119.4 L798.0,118.6 L798.8,118.1 L799.6,118.0 L800.3,118.2 L801.1,118.7 L801.8,119.5 L802.5,120.5 L803.1,121.6 L803.7,122.8 L804.2,124.1 L804.6,125.4 L805.1,126.7 L805.4,128.0 L805.8,129.4 L806.1,130.7 L806.5,132.0 L806.8,133.3 L807.1,134.6 L807.5,135.8 L807.8,137.0 L808.1,138.1 L808.4,139.3 L808.8,140.4 L809.1,141.5 L809.4,142.6 L809.7,143.7 L810.0,144.8 L810.3,145.9 L810.6,147.0 L810.9,148.1 L811.2,149.2 L811.5,150.4 L811.8,151.5 L812.1,152.7 L812.4,153.8 L812.7,155.0 L813.0,156.1 L813.3,157.3 L813.6,158.5 L813.8,159.6 L814.1,160.8 L814.4,162.0 L814.7,163.2 L814.9,164.4 L815.2,165.6 L815.4,166.7 L815.7,167.9 L815.9,169.1 L816.2,170.3 L816.4,171.5 L816.7,172.7 L816.9,173.9 L817.1,175.1 L817.3,176.3 L817.5,177.5 L817.8,178.7 L818.0,179.9 L818.2,181.1 L818.4,182.3 L818.6,183.5 L818.8,184.7 L819.0,185.9 L819.1,187.1 L819.3,188.3 L819.5,189.4 L819.7,190.6 L819.9,191.8 L820.1,193.0 L820.2,194.2 L820.4,195.4 L820.6,196.6 L820.8,197.8 L820.9,199.0 L821.1,200.1 L821.3,201.3 L821.5,202.5 L821.7,203.7 L821.8,204.9 L822.0,206.1 L822.2,207.3 L822.4,208.4 L822.6,209.6 L822.8,210.8 L822.9,212.0 L823.1,213.2 L823.3,214.3 L823.5,215.5 L823.7,216.7 L824.0,217.9 L824.2,219.0 L824.4,220.2 L824.6,221.4 L824.8,222.6 L825.1,223.7 L825.3,224.9 L825.5,226.1 L825.8,227.3 L826.0,228.4 L826.3,229.6 L826.6,230.8 L826.8,231.9 L827.1,233.1 L827.4,234.3 L827.7,235.4 L828.0,236.6 L828.3,237.8 L828.6,238.9 L829.0,240.1 L829.3,241.3 L829.7,242.4 L830.0,243.6 L830.4,244.8 L830.7,245.9 L831.1,247.1 L831.5,248.2 L831.9,249.4 L832.3,250.5 L832.8,251.7 L833.2,252.8 L833.7,254.0 L834.1,255.1 L834.6,256.3 L835.1,257.4 L835.6,258.5 L836.2,259.6 L836.7,260.7 L837.3,261.7 L837.9,262.8 L838.5,263.9 L839.1,264.9 L839.7,265.9 L840.4,266.9 L841.1,267.9 L841.8,268.8 L842.5,269.7 L843.3,270.6 L844.1,271.5 L844.9,272.4 L845.7,273.2 L846.6,274.0 L847.5,274.7 L848.4,275.5 L849.4,276.2 L850.4,276.9 L851.4,277.5 L852.4,278.1 L853.4,278.7 L854.5,279.3 L855.6,279.8 L856.7,280.3 L857.8,280.8 L858.9,281.2 L860.1,281.7 L861.2,282.1 L862.4,282.4 L863.5,282.8 L864.7,283.1 L865.9,283.4 L867.1,283.6 L868.2,283.9 L869.4,284.1 L870.6,284.3 L871.8,284.5 L873.0,284.6 L874.2,284.8 L875.4,284.9 L876.6,285.0 L877.8,285.1 L879.0,285.2 L880.2,285.3 L881.4,285.3 L882.6,285.4 L883.8,285.4 L885.0,285.4 L886.2,285.4 L887.5,285.4 L888.7,285.5 L889.9,285.5 L891.1,285.4 L892.3,285.4 L893.5,285.4 L894.7,285.4 L895.9,285.4 L897.1,285.4 L898.3,285.4 L899.6,285.4 L900.8,285.4 L902.0,285.4 L903.2,285.4 L904.4,285.4 L905.6,285.5 L906.8,285.5 L908.0,285.5 L909.2,285.5 L910.4,285.5 L911.6,285.6 L912.8,285.6 L914.0,285.6 L915.2,285.6 L916.4,285.6 L917.6,285.7 L918.8,285.7 L920.0,285.7 L921.2,285.7 L922.4,285.7 L923.6,285.7 L924.8,285.7 L926.0,285.6 L927.2,285.6 L928.4,285.6 L929.6,285.6 L930.8,285.5 L932.0,285.5 L933.2,285.4 L934.4,285.4 L935.6,285.4 L936.8,285.3 L938.0,285.3 L939.3,285.2 L940.5,285.2 L941.7,285.1 L942.9,285.1 L944.1,285.0 L945.3,284.9 L946.5,284.9 L947.7,284.8 L948.9,284.8 L950.1,284.7 L951.3,284.6 L952.5,284.6 L953.7,284.5 L954.9,284.4 L956.1,284.4 L957.3,284.3 L958.5,284.3 L959.7,284.2" stroke="#1a9bb5"/>
<path d="M703.0,274.3 L704.0,275.1 L705.0,275.9 L706.0,276.6 L707.0,277.2 L708.1,277.8 L709.1,278.4 L710.2,278.9 L711.3,279.3 L712.4,279.7 L713.5,280.1 L714.7,280.4 L715.8,280.7 L717.0,281.0 L718.1,281.2 L719.3,281.3 L720.5,281.4 L721.7,281.5 L722.8,281.6 L724.0,281.6 L725.2,281.6 L726.4,281.5 L727.6,281.4 L728.8,281.3 L730.0,281.1 L731.2,280.9 L732.4,280.7 L733.6,280.4 L734.7,280.1 L735.9,279.8 L737.1,279.5 L738.2,279.1 L739.4,278.7 L740.5,278.3 L741.6,277.8 L742.7,277.4 L743.8,276.9 L744.9,276.4 L746.0,275.8 L747.0,275.3 L748.1,274.7 L749.1,274.1 L750.2,273.5 L751.2,272.9 L752.2,272.2 L753.2,271.6 L754.2,270.9 L755.2,270.2 L756.1,269.5 L757.1,268.8 L758.1,268.1 L759.0,267.4 L760.0,266.6 L760.9,265.9 L761.9,265.1 L762.8,264.4 L763.8,263.6 L764.7,262.8 L765.6,262.0 L766.6,261.3 L767.5,260.5 L768.5,259.7 L769.4,258.9 L770.3,258.1 L771.3,257.3 L772.2,256.6 L773.2,255.8 L774.1,255.0 L775.0,254.2 L776.0,253.5 L777.0,252.7 L777.9,251.9 L778.9,251.2 L779.9,250.4 L780.8,249.7 L781.8,249.0 L782.8,248.3 L783.8,247.6 L784.8,246.9 L785.8,246.2 L786.8,245.6 L787.9,244.9 L788.9,244.3 L789.9,243.7 L791.0,243.1 L792.1,242.5 L793.1,242.0 L794.2,241.4 L795.3,240.9 L796.4,240.4 L797.5,239.9 L798.6,239.5 L799.8,239.1 L800.9,238.7 L802.0,238.3 L803.2,237.9 L804.3,237.6 L805.5,237.3 L806.7,237.0 L807.8,236.8 L809.0,236.5 L810.2,236.3 L811.4,236.2 L812.5,236.0 L813.7,235.9 L814.9,235.8 L816.1,235.8 L817.3,235.7 L818.4,235.7 L819.6,235.7 L820.8,235.8 L822.0,235.9 L823.1,236.0 L824.3,236.1 L825.4,236.3 L826.6,236.5 L827.8,236.7 L828.9,236.9 L830.1,237.2 L831.2,237.5 L832.4,237.8 L833.5,238.1 L834.6,238.5 L835.8,238.8 L836.9,239.2 L838.0,239.6 L839.2,240.0 L840.3,240.5 L841.4,240.9 L842.6,241.4 L843.7,241.8 L844.8,242.3 L845.9,242.8 L847.0,243.3 L848.1,243.8 L849.2,244.4 L850.4,244.9 L851.5,245.4 L852.6,246.0 L853.7,246.5 L854.8,247.1 L855.9,247.7 L857.0,248.2 L858.1,248.8 L859.2,249.3 L860.2,249.9 L861.3,250.5 L862.4,251.0 L863.5,251.6 L864.6,252.2 L865.7,252.7 L866.8,253.3 L867.8,253.8 L868.9,254.4 L870.0,254.9 L871.1,255.5 L872.2,256.0 L873.2,256.6 L874.3,257.1 L875.4,257.6 L876.5,258.1 L877.6,258.6 L878.7,259.1 L879.8,259.6 L880.9,260.1 L881.9,260.6 L883.0,261.1 L884.1,261.6 L885.2,262.0 L886.4,262.5 L887.5,262.9 L888.6,263.3 L889.7,263.7 L890.8,264.1 L891.9,264.5 L893.1,264.9 L894.2,265.3 L895.3,265.6 L896.5,265.9 L897.6,266.3 L898.8,266.6 L899.9,266.9 L901.1,267.1 L902.3,267.4 L903.4,267.7 L904.6,267.9 L905.8,268.1 L907.0,268.3 L908.1,268.5 L909.3,268.7 L910.5,268.9 L911.7,269.1 L912.9,269.2 L914.1,269.3 L915.3,269.5 L916.5,269.6 L917.7,269.7 L918.9,269.7 L920.1,269.8 L921.3,269.9 L922.5,269.9 L923.8,269.9 L925.0,270.0 L926.2,270.0 L927.4,269.9 L928.6,269.9 L929.8,269.9 L931.0,269.8 L932.2,269.8 L933.5,269.7 L934.7,269.6 L935.9,269.5 L937.1,269.4 L938.3,269.3 L939.5,269.1 L940.7,269.0 L941.9,268.8 L943.1,268.7 L944.3,268.5 L945.5,268.3 L946.7,268.1 L947.9,267.9 L949.1,267.6 L950.3,267.4 L951.4,267.1 L952.6,266.9 L953.8,266.6 L955.0,266.3 L956.1,266.0 L957.3,265.7 L958.4,265.3 L959.6,265.0" stroke="#1f4b94"/>
<path d="M703.0,274.3 L703.9,275.1 L704.9,275.9 L705.9,276.6 L706.9,277.2 L707.9,277.8 L709.0,278.4 L710.1,278.8 L711.2,279.3 L712.3,279.7 L713.4,280.0 L714.6,280.3 L715.7,280.6 L716.9,280.8 L718.1,281.0 L719.3,281.2 L720.5,281.4 L721.7,281.5 L722.9,281.6 L724.2,281.7 L725.4,281.8 L726.6,281.8 L727.9,281.9 L729.1,281.9 L730.4,281.8 L731.6,281.8 L732.8,281.7 L734.1,281.6 L735.3,281.5 L736.5,281.3 L737.7,281.2 L738.9,281.0 L740.1,280.7 L741.3,280.5 L742.5,280.2 L743.6,279.9 L744.8,279.5 L745.9,279.2 L747.0,278.8 L748.1,278.3 L749.2,277.9 L750.2,277.4 L751.3,276.9 L752.3,276.3 L753.3,275.8 L754.3,275.2 L755.3,274.6 L756.3,274.0 L757.3,273.3 L758.3,272.7 L759.2,272.0 L760.2,271.3 L761.1,270.6 L762.1,269.9 L763.0,269.2 L764.0,268.4 L764.9,267.7 L765.8,266.9 L766.8,266.2 L767.7,265.4 L768.7,264.7 L769.6,263.9 L770.6,263.1 L771.6,262.4 L772.6,261.6 L773.6,260.9 L774.6,260.1 L775.6,259.4 L776.6,258.7 L777.6,258.0 L778.6,257.3 L779.7,256.6 L780.7,255.9 L781.8,255.3 L782.9,254.6 L783.9,254.0 L785.0,253.5 L786.1,252.9 L787.2,252.4 L788.3,252.0 L789.4,251.5 L790.5,251.1 L791.6,250.8 L792.7,250.4 L793.9,250.2 L795.0,249.9 L796.1,249.8 L797.2,249.6 L798.4,249.5 L799.5,249.5 L800.6,249.5 L801.8,249.6 L802.9,249.7 L804.1,249.9 L805.2,250.1 L806.3,250.3 L807.5,250.6 L808.6,251.0 L809.8,251.3 L810.9,251.7 L812.0,252.1 L813.2,252.6 L814.3,253.1 L815.4,253.6 L816.5,254.1 L817.6,254.6 L818.8,255.2 L819.9,255.8 L821.0,256.4 L822.1,257.0 L823.2,257.7 L824.2,258.3 L825.3,259.0 L826.4,259.7 L827.4,260.3 L828.5,261.0 L829.5,261.7 L830.6,262.4 L831.6,263.1 L832.6,263.7 L833.6,264.4 L834.7,265.1 L835.7,265.7 L836.7,266.4 L837.7,267.0 L838.7,267.6 L839.7,268.2 L840.7,268.8 L841.8,269.3 L842.8,269.9 L843.9,270.4 L844.9,270.8 L846.0,271.3 L847.1,271.7 L848.2,272.1 L849.4,272.4 L850.5,272.7 L851.6,273.0 L852.8,273.3 L854.0,273.6 L855.1,273.8 L856.3,274.0 L857.5,274.2 L858.7,274.4 L859.9,274.6 L861.0,274.8 L862.2,275.0 L863.4,275.1 L864.6,275.3 L865.8,275.4 L867.0,275.5 L868.2,275.7 L869.4,275.8 L870.6,275.9 L871.8,276.0 L873.0,276.1 L874.2,276.2 L875.4,276.2 L876.6,276.3 L877.8,276.4 L879.0,276.4 L880.2,276.5 L881.4,276.5 L882.6,276.5 L883.8,276.6 L885.0,276.6 L886.2,276.6 L887.4,276.6 L888.6,276.6 L889.9,276.6 L891.1,276.6 L892.3,276.6 L893.5,276.6 L894.7,276.5 L895.9,276.5 L897.1,276.5 L898.3,276.4 L899.5,276.4 L900.7,276.3 L902.0,276.3 L903.2,276.2 L904.4,276.2 L905.6,276.1 L906.8,276.0 L908.0,275.9 L909.2,275.9 L910.4,275.8 L911.6,275.7 L912.9,275.6 L914.1,275.5 L915.3,275.4 L916.5,275.3 L917.7,275.2 L918.9,275.1 L920.1,275.0 L921.3,274.9 L922.5,274.7 L923.7,274.6 L925.0,274.5 L926.2,274.4 L927.4,274.3 L928.6,274.1 L929.8,274.0 L931.0,273.9 L932.2,273.8 L933.4,273.6 L934.6,273.5 L935.8,273.4 L937.0,273.2 L938.2,273.1 L939.4,273.0 L940.6,272.8 L941.8,272.7 L943.0,272.6 L944.2,272.4 L945.4,272.3 L946.6,272.1 L947.8,272.0 L948.9,271.9 L950.1,271.7 L951.3,271.6 L952.5,271.5 L953.7,271.3 L954.9,271.2 L956.1,271.1 L957.2,271.0 L958.4,270.8 L959.6,270.7" stroke="#1d1d1b"/>
</g>
<g fill="none" stroke="#0a0a0a" stroke-width="3.2">
<path d="M179.1,19.1 V287" />
<path d="M163.79999999999998,285.45 H457" />
<path d="M163.79999999999998,39.7 H179.1" />
<path d="M163.79999999999998,121.8 H179.1" />
<path d="M163.79999999999998,203.7 H179.1" />
<path d="M163.79999999999998,285.45 H179.1" />
<path d="M233.4,285.45 V299.8" />
<path d="M317.3,285.45 V299.8" />
<path d="M401.5,285.45 V299.8" />
<path d="M692.5,19.1 V287" />
<path d="M677.2,285.45 H972" />
<path d="M677.2,85.5 H692.5" />
<path d="M677.2,152.2 H692.5" />
<path d="M677.2,218.8 H692.5" />
<path d="M677.2,285.45 H692.5" />
<path d="M746.8,285.45 V299.8" />
<path d="M830.7,285.45 V299.8" />
<path d="M914.9,285.45 V299.8" />
</g>
<g>
<text x="149.7" y="50.1" text-anchor="end" font-size="35">7.5k</text>
<text x="149.7" y="132.1" text-anchor="end" font-size="35">5k</text>
<text x="149.7" y="214" text-anchor="end" font-size="35">2.5k</text>
<text x="149.7" y="298.2" text-anchor="end" font-size="35">0k</text>
<text x="205.6" y="337.3" font-size="34.8">Nov.</text>
<text x="290.2" y="337.3" font-size="34.8">Mar.</text>
<text x="376.4" y="337.3" font-size="34.8">Jul.</text>
<text x="189.8" y="387.2" font-size="43.5">2021</text>
<text x="317.2" y="387.2" font-size="43.5">2022</text>
<text x="663.1" y="95.5" text-anchor="end" font-size="35">300</text>
<text x="663.1" y="162" text-anchor="end" font-size="35">200</text>
<text x="663.1" y="228.5" text-anchor="end" font-size="35">100</text>
<text x="663.1" y="298.2" text-anchor="end" font-size="35">0</text>
<text x="719.0" y="337.3" font-size="34.8">Nov.</text>
<text x="803.6" y="337.3" font-size="34.8">Mar.</text>
<text x="889.8" y="337.3" font-size="34.8">Jul.</text>
<text x="703.2" y="387.2" font-size="43.5">2021</text>
<text x="830.6" y="387.2" font-size="43.5">2022</text>
</g>
<text transform="translate(30.9,304.7) rotate(-90)" font-size="42.3">Daily new cases</text>
<text transform="translate(64.7,228.4) rotate(-90)" font-size="33.9">per million</text>
<text transform="translate(555.7,295.5) rotate(-90)" font-size="42.5">ICU occupancy</text>
<text transform="translate(589.5,228.4) rotate(-90)" font-size="33.9">per million</text>
<g>
<path d="M13.6,469.6 H49.4" stroke="#c7271a" stroke-width="6.3" fill="none"/>
<text x="57.7" y="462.5" font-size="25.5">Model without</text>
<text x="57.7" y="487.9" font-size="25.5">feedbacks</text>
<path d="M249.3,467.3 H284.9" stroke="#1f4b94" stroke-width="6.3" fill="none"/>
<text x="304.2" y="450.1" font-size="25.5">Model with</text>
<text x="304.2" y="475.5" font-size="25.5">feedback on</text>
<text x="304.2" y="500.9" font-size="25.5">contact rate</text>
<path d="M473.9,467.2 H509.5" stroke="#1a9bb5" stroke-width="6.3" fill="none"/>
<text x="529.7" y="450.1" font-size="25.5">Model with</text>
<text x="529.7" y="475.5" font-size="25.5">feedback on</text>
<text x="529.7" y="500.9" font-size="25.5">vaccine uptake</text>
<path d="M741.2,467.1 H777.3" stroke="#1d1d1b" stroke-width="6.3" fill="none"/>
<text x="797.5" y="450.1" font-size="25.5">Model with</text>
<text x="797.5" y="475.5" font-size="25.5">both</text>
<text x="797.5" y="500.9" font-size="25.5">feedbacks</text>
</g>
</svg>
</body>
</html>
